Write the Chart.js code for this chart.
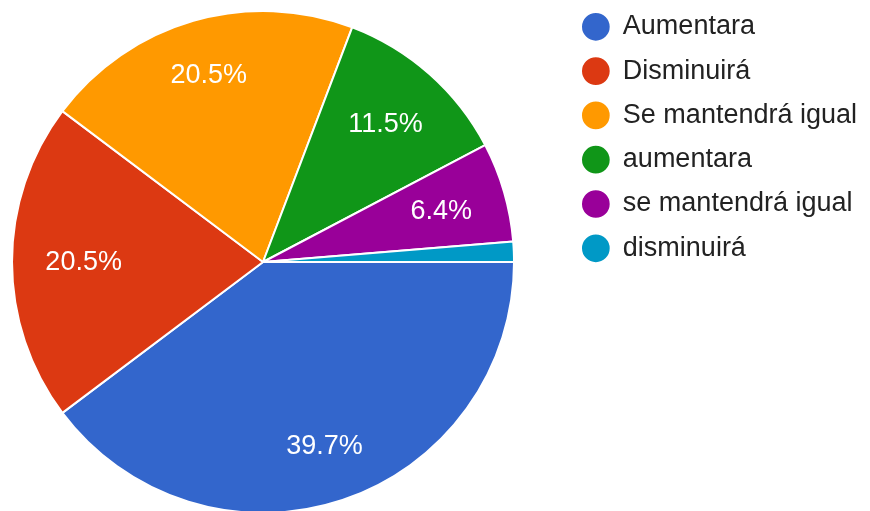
<!DOCTYPE html>
<html>
<head>
<meta charset="utf-8">
<script src="https://cdn.jsdelivr.net/npm/chart.js@4.4.1/dist/chart.umd.min.js"></script>
<style>
  html, body {
    margin: 0;
    padding: 0;
    width: 870px;
    height: 511px;
    overflow: hidden;
    background: #ffffff;
  }
  .pie-wrapper {
    position: absolute;
    left: -39px;
    top: -4px;
  }
</style>
</head>
<body>
<div class="pie-wrapper">
  <canvas id="pie" width="906" height="532"></canvas>
</div>
<script>
const answers = [
  "Aumentara",
  "Disminuirá",
  "Se mantendrá igual",
  "aumentara",
  "se mantendrá igual",
  "disminuirá",
];
const percentages = [39.7, 20.5, 20.5, 11.5, 6.4, 1.3];
const slice_colors = ["#3366cc", "#dc3912", "#ff9900", "#109618", "#990099", "#0099c6"];

const font_family = '"Liberation Sans", Arial, sans-serif';
const label_size = 27;

// writes the percentage inside each slice, pushed out so the far corner
// of the text box sits near the rim
const slice_labels = {
  id: "slice_labels",
  afterDatasetsDraw(chart) {
    const ctx = chart.ctx;
    const meta = chart.getDatasetMeta(0);
    ctx.save();
    ctx.font = `${label_size}px ${font_family}`;
    ctx.fillStyle = "#ffffff";
    ctx.textAlign = "center";
    ctx.textBaseline = "middle";
    meta.data.forEach((arc, index) => {
      const value = percentages[index];
      if (value < 5) return;
      const { x, y, startAngle, endAngle, outerRadius } = arc.getProps(
        ["x", "y", "startAngle", "endAngle", "outerRadius"],
        true
      );
      const text = value.toFixed(1) + "%";
      const mid = (startAngle + endAngle) / 2;
      const ux = Math.cos(mid);
      const uy = Math.sin(mid);
      const a = Math.sign(ux) * ctx.measureText(text).width / 2;
      const b = Math.sign(uy) * label_size * 0.72 / 2;
      const reach = outerRadius * 0.868;
      const k = ux * a + uy * b;
      const d = -k + Math.sqrt(k * k - (a * a + b * b - reach * reach));
      ctx.fillText(text, x + ux * d, y + uy * d + 1);
    });
    ctx.restore();
  },
};

new Chart(document.getElementById("pie"), {
  type: "pie",
  data: {
    labels: answers,
    datasets: [
      {
        data: percentages,
        backgroundColor: slice_colors,
        borderColor: "#ffffff",
        borderWidth: 2,
        hoverOffset: 0,
      },
    ],
  },
  options: {
    responsive: false,
    devicePixelRatio: 1,
    animation: false,
    events: [],
    rotation: 90,
    radius: 251,
    layout: {
      padding: 0,
    },
    plugins: {
      tooltip: { enabled: false },
      legend: {
        position: "right",
        align: "start",
        labels: {
          usePointStyle: true,
          pointStyle: "circle",
          boxWidth: 27,
          boxHeight: 21,
          padding: 17.3,
          color: "#222222",
          font: {
            family: font_family,
            size: 27,
          },
        },
      },
    },
  },
  plugins: [slice_labels],
});
</script>
</body>
</html>
